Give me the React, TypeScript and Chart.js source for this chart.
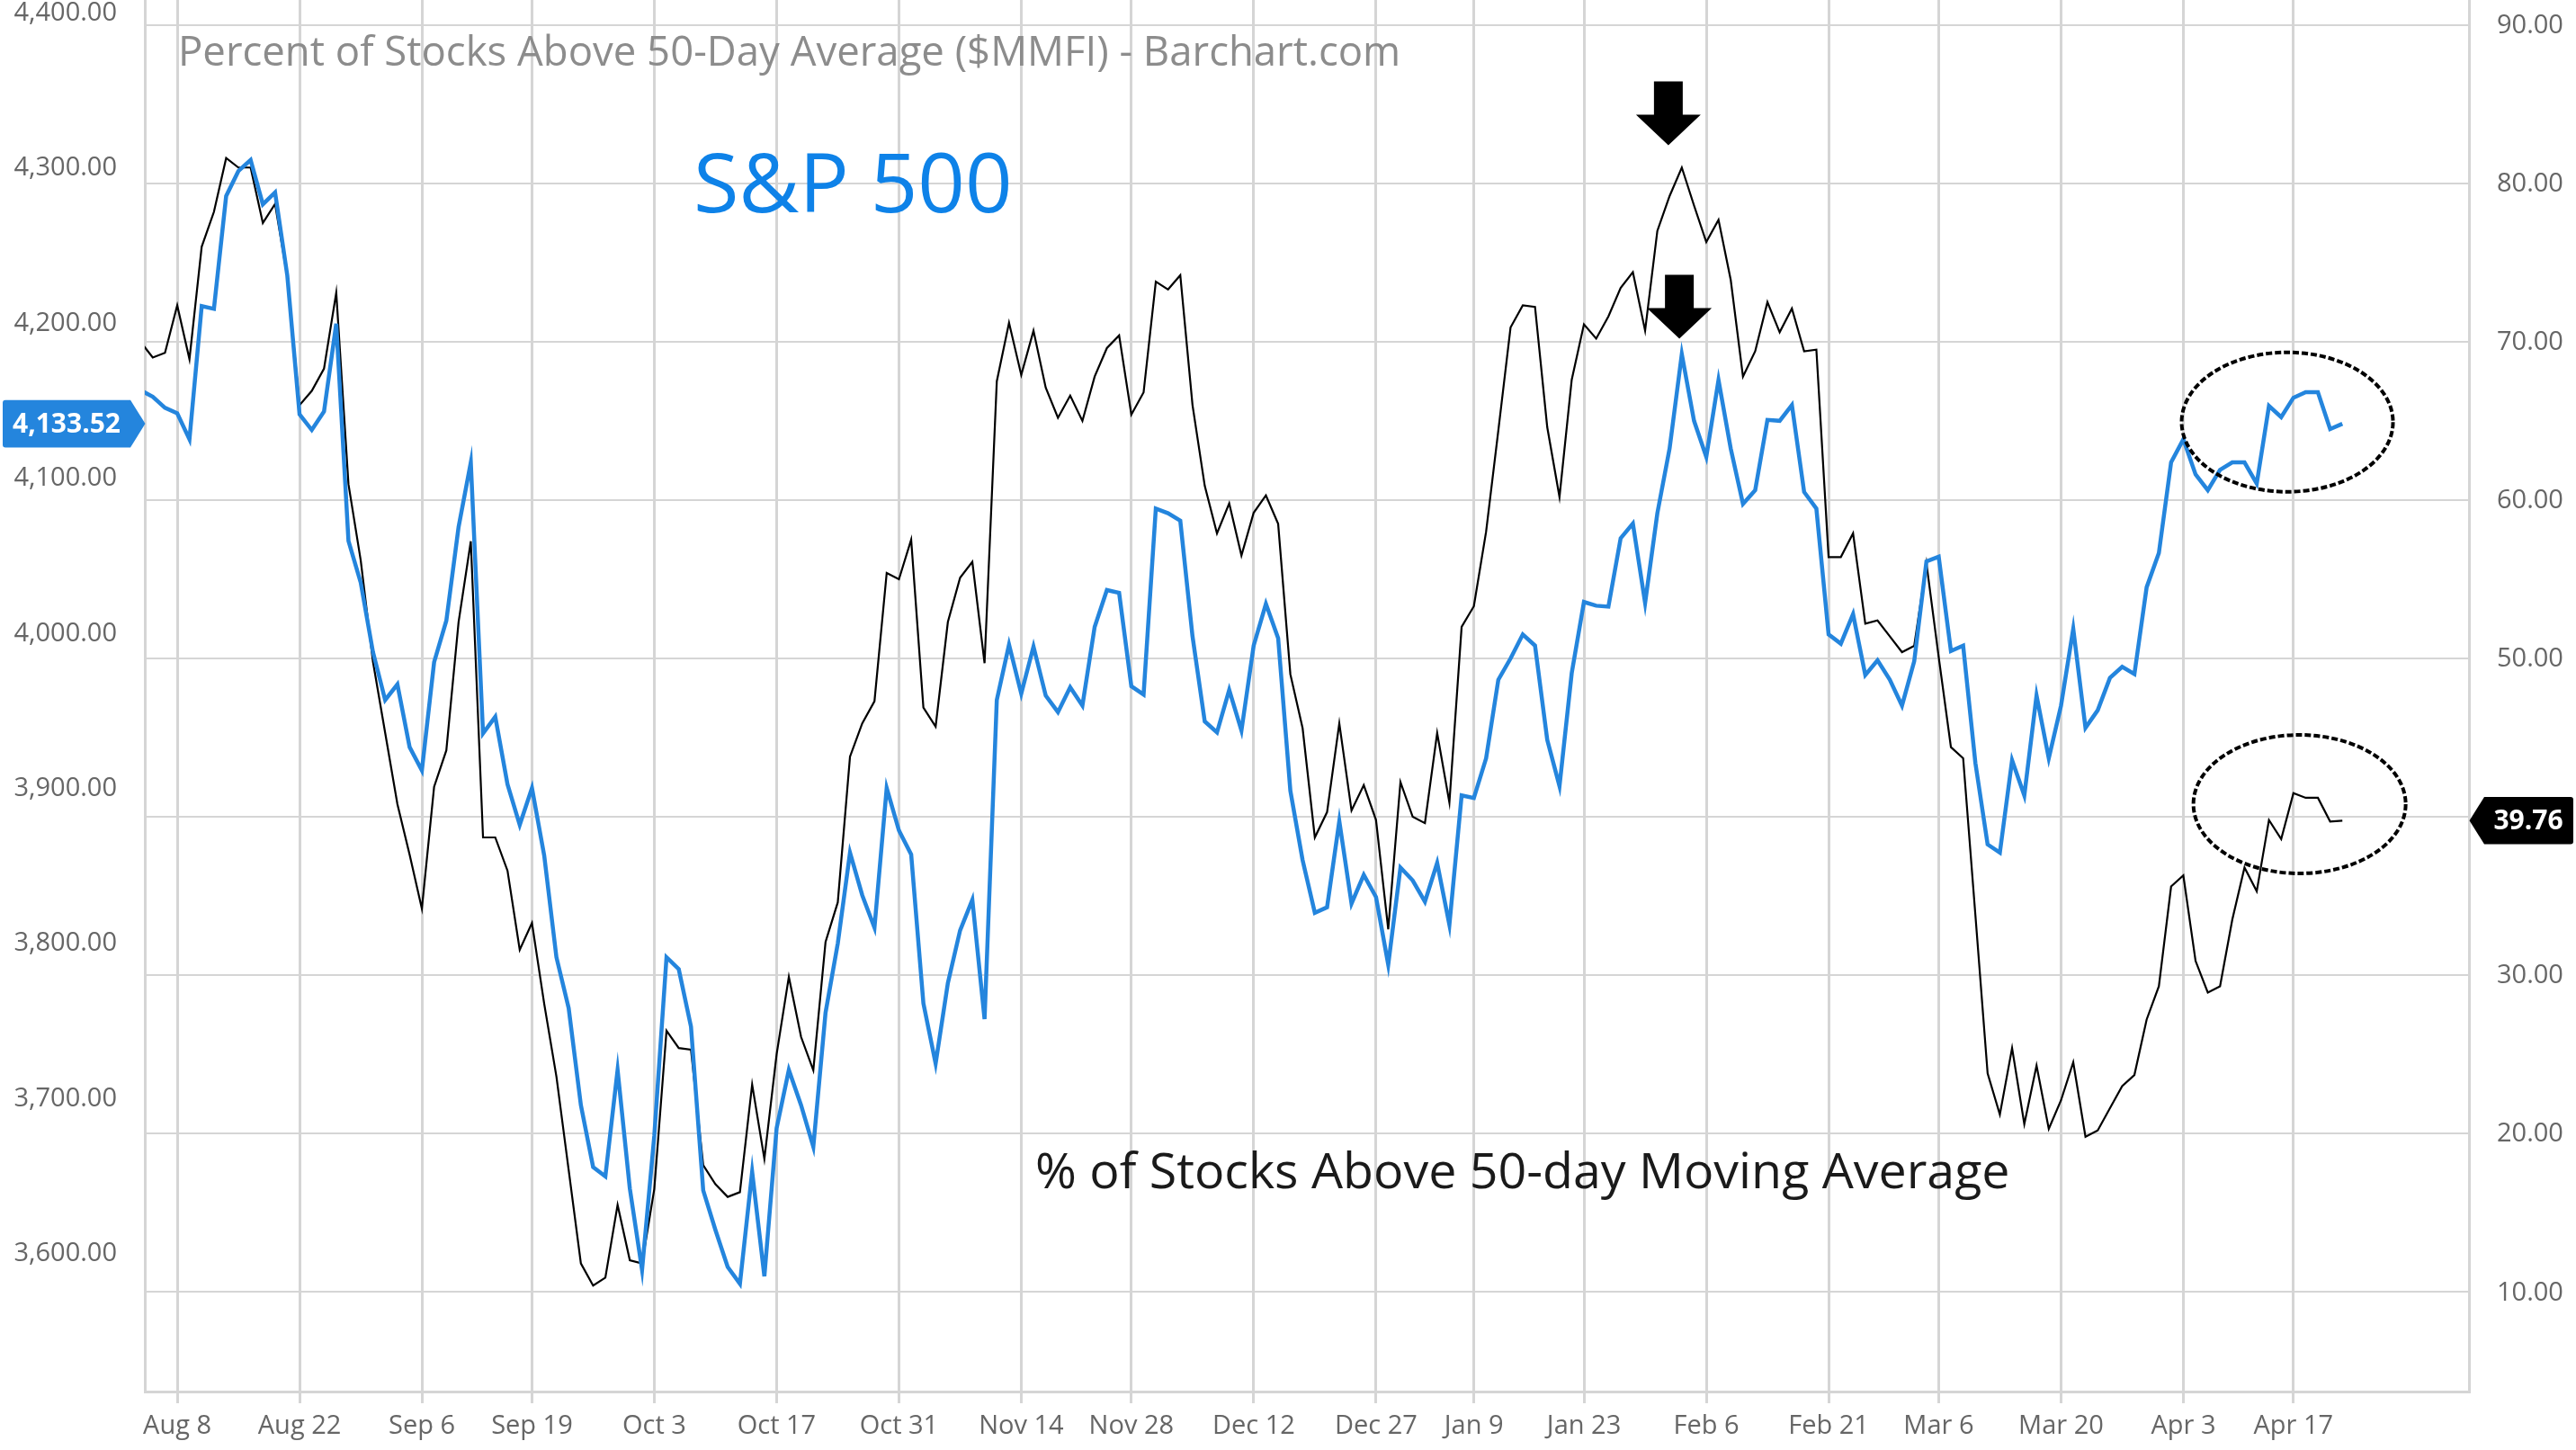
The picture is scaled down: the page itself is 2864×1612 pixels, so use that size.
import React, { useEffect, useRef } from "react";
import { Chart, registerables } from "chart.js";

Chart.register(...registerables);

// ---------- data (index 0 = Aug 3 2022, one point per trading day, last = Apr 21 2023) ----------
const SPX: number[] = [
  4155.1, 4150.9, 4143.8, 4140.2, 4123.5, 4209.4, 4207.6, 4280.3, 4296.4, 4303.6,
  4275.0, 4282.7, 4229.0, 4139.6, 4129.5, 4141.4, 4198.0, 4057.9, 4031.1, 3986.4,
  3955.4, 3965.5, 3925.0, 3910.0, 3979.8, 4006.6, 4066.9, 4108.6, 3933.9, 3944.6,
  3901.1, 3874.9, 3898.7, 3855.2, 3789.6, 3756.8, 3694.2, 3654.3, 3648.3, 3716.9,
  3640.5, 3588.1, 3674.5, 3789.6, 3781.9, 3744.9, 3639.3, 3613.7, 3589.9, 3579.1,
  3651.3, 3583.9, 3679.3, 3716.9, 3694.2, 3667.4, 3753.8, 3798.5, 3857.0, 3829.6,
  3808.7, 3898.7, 3871.3, 3855.8, 3759.8, 3721.0, 3772.9, 3806.9, 3826.6, 3749.7,
  3955.4, 3991.1, 3959.5, 3989.9, 3958.3, 3947.6, 3963.7, 3951.8, 4002.5, 4026.3,
  4024.5, 3964.3, 3958.9, 4078.8, 4075.8, 4071.0, 3996.5, 3941.6, 3934.5, 3961.9,
  3935.7, 3990.5, 4017.4, 3995.3, 3896.9, 3852.2, 3818.2, 3821.8, 3877.3, 3824.2,
  3842.7, 3828.4, 3784.8, 3847.4, 3839.1, 3825.4, 3850.4, 3810.5, 3893.9, 3892.2,
  3917.8, 3968.5, 3982.2, 3997.7, 3990.5, 3929.7, 3899.9, 3972.7, 4018.6, 4016.2,
  4015.6, 4059.7, 4069.2, 4018.0, 4075.8, 4117.5, 4178.4, 4135.4, 4112.2, 4161.7,
  4117.5, 4081.8, 4090.7, 4136.0, 4135.4, 4145.6, 4089.5, 4078.8, 3997.7, 3991.7,
  4010.8, 3971.5, 3981.0, 3968.5, 3951.8, 3980.4, 4044.8, 4047.8, 3987.0, 3990.5,
  3914.8, 3862.3, 3857.0, 3916.6, 3893.9, 3958.3, 3917.8, 3951.8, 4001.3, 3937.5,
  3948.8, 3969.7, 3976.8, 3972.1, 4028.1, 4050.2, 4108.6, 4123.5, 4100.8, 4090.7,
  4103.8, 4108.6, 4108.6, 4094.9, 4145.0, 4137.8, 4150.3, 4153.9, 4153.9, 4130.1,
  4133.52,
];

const MMFI: number[] = [
  70.0, 69.0, 69.3, 72.3, 68.9, 76.0, 78.2, 81.6, 81.0, 81.0,
  77.5, 78.7, 74.1, 66.0, 66.9, 68.3, 73.1, 61.0, 56.2, 49.8,
  45.3, 40.8, 37.6, 34.2, 41.9, 44.2, 52.3, 57.4, 38.7, 38.7,
  36.6, 31.6, 33.3, 28.2, 23.6, 17.7, 11.8, 10.4, 10.9, 15.5,
  12.0, 11.8, 16.5, 26.5, 25.4, 25.3, 18.0, 16.8, 16.0, 16.3,
  23.1, 18.4, 25.0, 29.9, 26.1, 24.0, 32.1, 34.6, 43.8, 45.9,
  47.3, 55.4, 55.0, 57.5, 46.9, 45.7, 52.3, 55.1, 56.1, 49.7,
  67.5, 71.2, 67.9, 70.7, 67.1, 65.2, 66.6, 65.0, 67.8, 69.6,
  70.4, 65.4, 66.8, 73.8, 73.3, 74.2, 66.0, 60.9, 57.9, 59.8,
  56.5, 59.2, 60.3, 58.5, 49.0, 45.6, 38.7, 40.3, 45.9, 40.4,
  42.0, 39.8, 32.9, 42.2, 40.0, 39.6, 45.3, 40.9, 52.0, 53.3,
  58.0, 64.4, 70.9, 72.3, 72.2, 64.6, 60.2, 67.6, 71.1, 70.2,
  71.6, 73.4, 74.4, 70.7, 77.0, 79.2, 81.0, 78.6, 76.3, 77.7,
  73.9, 67.8, 69.4, 72.5, 70.6, 72.1, 69.4, 69.5, 56.4, 56.4,
  57.9, 52.2, 52.4, 51.4, 50.4, 50.8, 56.0, 50.1, 44.4, 43.7,
  33.8, 23.8, 21.2, 25.4, 20.6, 24.3, 20.3, 22.1, 24.5, 19.8,
  20.2, 21.6, 23.0, 23.7, 27.2, 29.3, 35.6, 36.3, 30.9, 28.9,
  29.3, 33.5, 36.8, 35.3, 39.8, 38.6, 41.5, 41.2, 41.2, 39.7,
  39.76,
];

const TICK_INDEX: number[] = [3, 13, 23, 32, 42, 52, 62, 72, 81, 91, 101, 109, 118, 128, 138, 147, 157, 167, 176];
const TICK_LABELS: string[] = [
  "Aug 8", "Aug 22", "Sep 6", "Sep 19", "Oct 3", "Oct 17", "Oct 31", "Nov 14", "Nov 28",
  "Dec 12", "Dec 27", "Jan 9", "Jan 23", "Feb 6", "Feb 21", "Mar 6", "Mar 20", "Apr 3", "Apr 17",
];
const LEFT_TICKS: number[] = [3600, 3700, 3800, 3900, 4000, 4100, 4200, 4300, 4400];
const RIGHT_TICKS: number[] = [10, 20, 30, 40, 50, 60, 70, 80, 90];

const X_MIN = 0.35;
const X_MAX = 190.35;
const LEFT_MIN = 3509.6;
const LEFT_MAX = 4406.7;
const RIGHT_MIN = 3.71;
const RIGHT_MAX = 91.58;

const TITLE = "Percent of Stocks Above 50-Day Average ($MMFI) - Barchart.com";
const LABEL_SPX = "S&P 500";
const LABEL_MMFI = "% of Stocks Above 50-day Moving Average";

// annotation anchors in data units
const ARROWS = [
  { x: 124.9, y: 82.4 },
  { x: 125.8, y: 70.2 },
];
const ELLIPSE_SPX = { x: 175.5, y: 4134.6 };
const ELLIPSE_MMFI = { x: 176.5, y: 40.8 };

// ---------- layout ----------
const W = 2864;
const H = 1612;
const TOP = 70;
const LEFT_W = 161;
const RIGHT_W = 2864 - 2745;
const PLOT_BOTTOM = 1547;
const FONT = "'Open Sans', 'Noto Sans', sans-serif";
const GRID = "#d5d5d5";
const BLUE = "#2485dd";

function fmt(v: number, d: number): string {
  const s = v.toFixed(d);
  const [i, f] = s.split(".");
  return i.replace(/\B(?=(\d{3})+(?!\d))/g, ",") + (f ? "." + f : "");
}

const annotations = {
  id: "annotations",
  afterDraw(chart: any) {
    const { ctx, scales } = chart;
    const x = scales.x;
    const y = scales.y;
    const y1 = scales.y1;
    ctx.save();

    // title
    ctx.textAlign = "left";
    ctx.textBaseline = "alphabetic";
    ctx.fillStyle = "#8c8c8c";
    ctx.font = `45.5px ${FONT}`;
    ctx.fillText(TITLE, 198, TOP + 72.7);

    // S&P 500 label
    ctx.fillStyle = "#0e82e8";
    ctx.font = `92px ${FONT}`;
    ctx.fillText(LABEL_SPX, 771, TOP + 236);

    // bottom text
    ctx.fillStyle = "#1a1a1a";
    ctx.font = `55.5px ${FONT}`;
    ctx.fillText(LABEL_MMFI, 1151, TOP + 1321);

    // arrows
    ctx.fillStyle = "#000";
    for (const a of ARROWS) {
      const tx = x.getPixelForValue(a.x);
      const ty = y1.getPixelForValue(a.y);
      const headH = 34, headW = 72, shaftW = 32, shaftH = 37;
      ctx.beginPath();
      ctx.moveTo(tx, ty);
      ctx.lineTo(tx - headW / 2, ty - headH);
      ctx.lineTo(tx - shaftW / 2, ty - headH);
      ctx.lineTo(tx - shaftW / 2, ty - headH - shaftH);
      ctx.lineTo(tx + shaftW / 2, ty - headH - shaftH);
      ctx.lineTo(tx + shaftW / 2, ty - headH);
      ctx.lineTo(tx + headW / 2, ty - headH);
      ctx.closePath();
      ctx.fill();
    }

    // dashed ellipses
    ctx.strokeStyle = "#000";
    ctx.lineWidth = 4;
    ctx.setLineDash([7, 3]);
    ctx.beginPath();
    ctx.ellipse(x.getPixelForValue(ELLIPSE_SPX.x), y.getPixelForValue(ELLIPSE_SPX.y), 117.5, 77.5, 0, 0, Math.PI * 2);
    ctx.stroke();
    ctx.beginPath();
    ctx.ellipse(x.getPixelForValue(ELLIPSE_MMFI.x), y1.getPixelForValue(ELLIPSE_MMFI.y), 118, 77, 0, 0, Math.PI * 2);
    ctx.stroke();
    ctx.setLineDash([]);

    // last value label, left (S&P 500)
    const lastSpx = SPX[SPX.length - 1];
    const ly = y.getPixelForValue(lastSpx);
    const hh = 26.3;
    ctx.fillStyle = BLUE;
    ctx.beginPath();
    ctx.moveTo(6, ly - hh);
    ctx.lineTo(145, ly - hh);
    ctx.lineTo(161.5, ly);
    ctx.lineTo(145, ly + hh);
    ctx.lineTo(6, ly + hh);
    ctx.quadraticCurveTo(3, ly + hh, 3, ly + hh - 3);
    ctx.lineTo(3, ly - hh + 3);
    ctx.quadraticCurveTo(3, ly - hh, 6, ly - hh);
    ctx.closePath();
    ctx.fill();
    ctx.fillStyle = "#fff";
    ctx.font = `bold 30px ${FONT}`;
    ctx.textAlign = "center";
    ctx.textBaseline = "middle";
    ctx.fillText(fmt(lastSpx, 2), 74, ly + 1);

    // last value label, right (MMFI)
    const lastM = MMFI[MMFI.length - 1];
    const ry = y1.getPixelForValue(lastM);
    const bx0 = 2762, bx1 = 2861;
    ctx.fillStyle = "#000";
    ctx.beginPath();
    ctx.moveTo(2745.5, ry);
    ctx.lineTo(bx0, ry - hh);
    ctx.lineTo(bx1 - 3, ry - hh);
    ctx.quadraticCurveTo(bx1, ry - hh, bx1, ry - hh + 3);
    ctx.lineTo(bx1, ry + hh - 3);
    ctx.quadraticCurveTo(bx1, ry + hh, bx1 - 3, ry + hh);
    ctx.lineTo(bx0, ry + hh);
    ctx.closePath();
    ctx.fill();
    ctx.fillStyle = "#fff";
    ctx.fillText(fmt(lastM, 2), 2811, ry + 1);

    ctx.restore();
  },
};

export default function App() {
  const ref = useRef<HTMLCanvasElement | null>(null);

  useEffect(() => {
    const canvas = ref.current;
    if (!canvas) return;
    const tickFont = { family: FONT, size: 29 };
    const chart = new Chart(canvas, {
      type: "line",
      data: {
        datasets: [
          {
            label: "S&P 500",
            data: SPX.map((v, i) => ({ x: i, y: v })),
            yAxisID: "y",
            borderColor: BLUE,
            borderWidth: 4.5,
            pointRadius: 0,
            tension: 0,
            fill: false,
          },
          {
            label: "$MMFI",
            data: MMFI.map((v, i) => ({ x: i, y: v })),
            yAxisID: "y1",
            borderColor: "#000",
            borderWidth: 2.2,
            pointRadius: 0,
            tension: 0,
            fill: false,
          },
        ],
      },
      options: {
        responsive: false,
        animation: false,
        events: [],
        layout: { padding: { top: TOP, left: 0, right: 0, bottom: 0 } },
        plugins: {
          legend: { display: false },
          tooltip: { enabled: false },
          title: { display: false },
        },
        scales: {
          x: {
            type: "linear",
            min: X_MIN,
            max: X_MAX,
            afterBuildTicks: (s: any) => {
              s.ticks = TICK_INDEX.map((v) => ({ value: v }));
            },
            afterFit: (s: any) => {
              s.height = H - PLOT_BOTTOM;
            },
            ticks: {
              autoSkip: false,
              maxRotation: 0,
              minRotation: 0,
              padding: 8,
              color: "#666",
              font: tickFont,
              callback: (v: any) => {
                const k = TICK_INDEX.indexOf(Math.round(Number(v)));
                return k >= 0 ? TICK_LABELS[k] : "";
              },
            },
            grid: { color: GRID, lineWidth: 3, drawTicks: true, tickLength: 13 },
            border: { color: GRID, width: 3 },
          },
          y: {
            type: "linear",
            position: "left",
            min: LEFT_MIN,
            max: LEFT_MAX,
            afterBuildTicks: (s: any) => {
              s.ticks = LEFT_TICKS.map((v) => ({ value: v }));
            },
            afterFit: (s: any) => {
              s.width = LEFT_W;
            },
            ticks: {
              autoSkip: false,
              padding: 31,
              labelOffset: 3,
              color: "#666",
              font: tickFont,
              callback: (v: any) => fmt(Number(v), 2),
            },
            grid: { display: false, drawTicks: false },
            border: { color: GRID, width: 3 },
          },
          y1: {
            type: "linear",
            position: "right",
            min: RIGHT_MIN,
            max: RIGHT_MAX,
            afterBuildTicks: (s: any) => {
              s.ticks = RIGHT_TICKS.map((v) => ({ value: v }));
            },
            afterFit: (s: any) => {
              s.width = RIGHT_W;
            },
            ticks: {
              autoSkip: false,
              padding: 31,
              labelOffset: 1,
              color: "#666",
              font: tickFont,
              callback: (v: any) => fmt(Number(v), 2),
            },
            grid: { color: GRID, lineWidth: 2, drawTicks: false },
            border: { color: GRID, width: 3 },
          },
        },
      } as any,
      plugins: [annotations],
    });
    return () => chart.destroy();
  }, []);

  return (
    <div style={{ position: "relative", width: W, height: H, overflow: "hidden", background: "#fff" }}>
      <style>{"html,body{margin:0;padding:0;overflow:hidden;background:#fff}"}</style>
      <canvas
        ref={ref}
        width={W}
        height={H + TOP}
        style={{ position: "absolute", left: 0, top: -TOP, width: W, height: H + TOP, display: "block" }}
      />
    </div>
  );
}
